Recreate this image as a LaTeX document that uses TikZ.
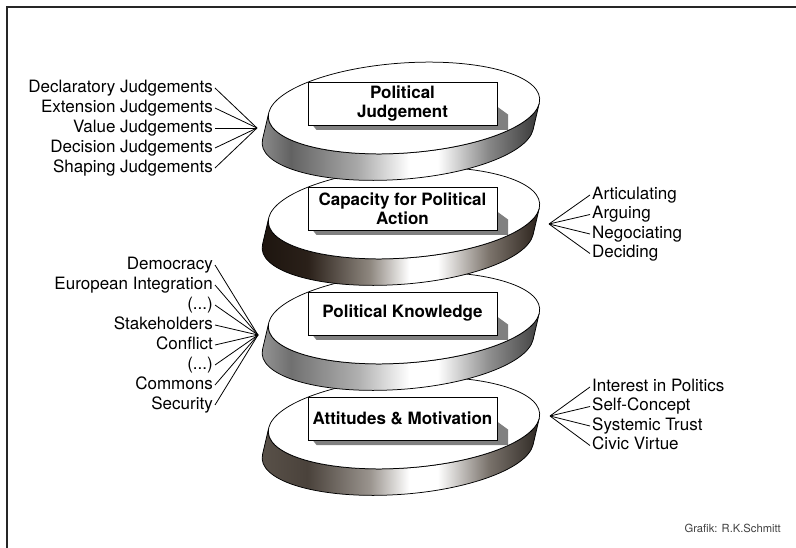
\documentclass[tikz,border=0pt]{standalone}
\usepackage{fontspec}
\setmainfont{TeX Gyre Heros}
\usetikzlibrary{calc}

% band colours
\definecolor{pjA}{HTML}{929292}\definecolor{pjB}{HTML}{626262}\definecolor{pjC}{HTML}{AAAAAA}\definecolor{pjD}{HTML}{888888}\definecolor{pjE}{HTML}{363636}
\definecolor{caA}{HTML}{1C140E}\definecolor{caB}{HTML}{2A2019}\definecolor{caC}{HTML}{8E877F}\definecolor{caD}{HTML}{7D756D}\definecolor{caE}{HTML}{2A211A}
\definecolor{pkA}{HTML}{9A9A9A}\definecolor{pkB}{HTML}{707070}\definecolor{pkC}{HTML}{B0B0B0}\definecolor{pkD}{HTML}{909090}\definecolor{pkE}{HTML}{404040}
\definecolor{amA}{HTML}{5A524A}\definecolor{amB}{HTML}{4A423B}\definecolor{amC}{HTML}{9A948E}\definecolor{amD}{HTML}{7A736C}\definecolor{amE}{HTML}{2E2823}
\definecolor{shadowc}{HTML}{808080}

\pgfdeclarehorizontalshading{bandPJ}{100bp}{color(0bp)=(pjA); color(25bp)=(pjA); color(31bp)=(pjB); color(43bp)=(pjC); color(52bp)=(white); color(57bp)=(white); color(66bp)=(pjD); color(75bp)=(pjE); color(100bp)=(pjE)}
\pgfdeclarehorizontalshading{bandCA}{100bp}{color(0bp)=(caA); color(25bp)=(caA); color(34bp)=(caB); color(45bp)=(caC); color(52bp)=(white); color(57bp)=(white); color(66bp)=(caD); color(75bp)=(caE); color(100bp)=(caE)}
\pgfdeclarehorizontalshading{bandPK}{100bp}{color(0bp)=(pkA); color(25bp)=(pkA); color(31bp)=(pkB); color(43bp)=(pkC); color(52bp)=(white); color(57bp)=(white); color(66bp)=(pkD); color(75bp)=(pkE); color(100bp)=(pkE)}
\pgfdeclarehorizontalshading{bandAM}{100bp}{color(0bp)=(amA); color(25bp)=(amA); color(34bp)=(amB); color(45bp)=(amC); color(52bp)=(white); color(57bp)=(white); color(66bp)=(amD); color(75bp)=(amE); color(100bp)=(amE)}

\newcommand{\mydisk}[2]{%
  \begin{scope}[shift={(404,#1)}, rotate=4]
    \shadedraw[shading=#2, outline] (185.81:136 and 45)
      arc[start angle=185.81, end angle=5.81, x radius=136, y radius=45]
      -- ++(-8,26)
      arc[start angle=5.81, end angle=185.81, x radius=136, y radius=45]
      -- cycle;
    \filldraw[fill=white, outline] (0,0) ellipse [x radius=136, y radius=45];
  \end{scope}}

\newcommand{\mybox}[4]{%
  \fill[shadowc] (#2+94.5,#3+3) -- (#2+105.5,#3+11) -- (#2+105.5,#3+26.5)
     -- (#2-86,#3+26.5) -- (#2-90,#3+21.5) -- cycle;
  \node[box] (#1) at (#2,#3) {#4};}

\begin{document}
\begin{tikzpicture}[x=1pt, y=-1pt,
  box/.style={draw=black, fill=white, line width=0.8pt, minimum width=189pt,
    minimum height=43pt, inner sep=0pt, align=center,
    font=\bfseries\fontsize{17}{18.5}\selectfont},
  lab/.style={inner sep=2pt, font=\fontsize{17}{20}\selectfont,
    text height=12pt, text depth=3.5pt},
  fan/.style={line width=0.8pt, draw=black},
  outline/.style={line width=0.75pt, draw=black}]

\useasboundingbox (0,0) rectangle (796,548);
\fill[white] (0,0) rectangle (796,548);
\draw[line width=1.8pt, black!85] (7,548) -- (7,7) -- (796,7);

% disks, bottom first
\mydisk{423}{bandAM}
\mybox{am}{402.5}{418.5}{Attitudes \& Motivation}
\mydisk{318}{bandPK}
\mybox{pk}{402.5}{313.5}{Political Knowledge}
\mydisk{213}{bandCA}
\mybox{ca}{402.5}{208.5}{Capacity for Political\\Action}
\mydisk{108}{bandPJ}
\mybox{pj}{402.5}{103.5}{Political\\Judgement}

% left fan: judgements
\coordinate (f1) at (257,128);
\node[lab, anchor=east] (j1) at (215,88) {Declaratory Judgements};
\node[lab, anchor=east] (j2) at (215,108) {Extension Judgements};
\node[lab, anchor=east] (j3) at (215,128) {Value Judgements};
\node[lab, anchor=east] (j4) at (215,148) {Decision Judgements};
\node[lab, anchor=east] (j5) at (215,168) {Shaping Judgements};
\foreach \n in {j1,j2,j3,j4,j5} \draw[fan] (\n.east) -- (f1);

% right fan: capacity
\coordinate (f2) at (549,224);
\node[lab, anchor=west] (c1) at (590,195) {Articulating};
\node[lab, anchor=west] (c2) at (590,214.5) {Arguing};
\node[lab, anchor=west] (c3) at (590,234) {Negociating};
\node[lab, anchor=west] (c4) at (590,253.5) {Deciding};
\foreach \n in {c1,c2,c3,c4} \draw[fan] (\n.west) -- (f2);

% left fan: knowledge
\coordinate (f3) at (258,335);
\node[lab, anchor=east] (k1) at (215,265) {Democracy};
\node[lab, anchor=east] (k2) at (215,285) {European Integration};
\node[lab, anchor=east] (k3) at (215,305) {(...)};
\node[lab, anchor=east] (k4) at (215,325) {Stakeholders};
\node[lab, anchor=east] (k5) at (215,345) {Conflict};
\node[lab, anchor=east] (k6) at (215,365) {(...)};
\node[lab, anchor=east] (k7) at (215,385) {Commons};
\node[lab, anchor=east] (k8) at (215,405) {Security};
\foreach \n in {k1,k2,k3,k4,k5,k6,k7,k8} \draw[fan] (\n.east) -- (f3);

% right fan: attitudes
\coordinate (f4) at (550,416);
\node[lab, anchor=west] (m1) at (590,387) {Interest in Politics};
\node[lab, anchor=west] (m2) at (590,406.5) {Self-Concept};
\node[lab, anchor=west] (m3) at (590,426) {Systemic Trust};
\node[lab, anchor=west] (m4) at (590,445.5) {Civic Virtue};
\foreach \n in {m1,m2,m3,m4} \draw[fan] (\n.west) -- (f4);

\node[anchor=east, inner sep=0pt, text=black!75, font=\fontsize{11.2}{13}\selectfont] (credit) at (781,528) {Grafik: R.K.Schmitt};
\end{tikzpicture}
\end{document}
